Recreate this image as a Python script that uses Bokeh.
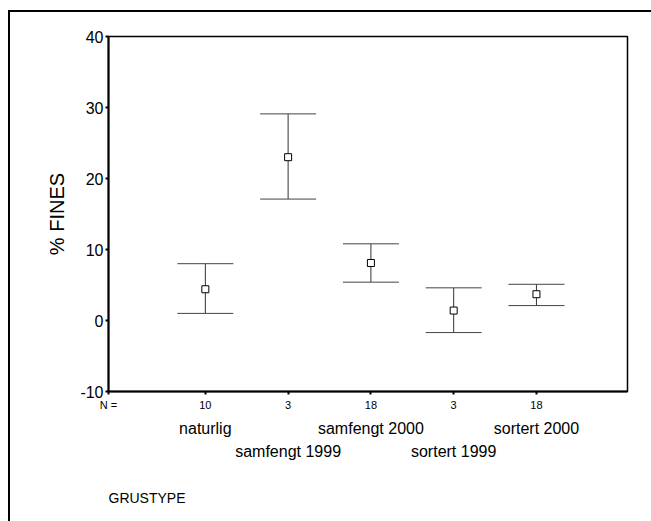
from bokeh.plotting import figure
from bokeh.models import (Range1d, FixedTicker, LinearAxis, Whisker, TeeHead,
                          ColumnDataSource, Title)
from bokeh.embed import file_html
from bokeh.resources import INLINE

categories = ["naturlig", "samfengt 1999", "samfengt 2000", "sortert 1999", "sortert 2000"]
counts = [10, 3, 18, 3, 18]
means = [4.4, 23.0, 8.1, 1.4, 3.7]
upper = [8.0, 29.1, 10.8, 4.6, 5.1]
lower = [1.0, 17.1, 5.4, -1.7, 2.1]
y_ticks = [-10, 0, 10, 20, 30, 40]

xs = list(range(1, len(categories) + 1))
FONT = "Liberation Sans"
X_START, X_END = -0.17, 6.1

src = ColumnDataSource(dict(x=xs, mean=means, upper=upper, lower=lower))

p = figure(width=643, height=519, output_backend="svg", toolbar_location=None,
           x_range=Range1d(X_START, X_END), y_range=Range1d(-10, 40),
           min_border_left=98, min_border_top=24, min_border_right=26,
           min_border_bottom=140, x_axis_type=None)
p.styles = {"margin-left": "8px", "margin-top": "10px",
            "border-left": "2px solid black", "border-top": "2px solid black"}

p.grid.visible = False
p.outline_line_color = "black"
p.outline_line_width = 1.5
p.background_fill_color = "white"
p.border_fill_color = "white"

# y axis
ya = p.yaxis[0]
ya.ticker = FixedTicker(ticks=y_ticks)
ya.major_label_overrides = {t: str(t) for t in y_ticks}
ya.minor_tick_line_color = None
ya.major_tick_out = 3
ya.major_tick_in = 0
ya.major_tick_line_width = 2
ya.axis_line_width = 2
ya.major_label_standoff = 2
ya.major_label_text_font = FONT
ya.major_label_text_font_size = "16px"
ya.major_label_text_color = "black"
ya.axis_label = "% FINES"
ya.axis_label_text_font = FONT
ya.axis_label_text_font_size = "20px"
ya.axis_label_text_font_style = "normal"
ya.axis_label_text_color = "black"
ya.axis_label_standoff = 9

# x axis: counts, with the "N =" caption at the left end of the axis
ax1_ticks = [X_START] + xs
ax1_labels = {X_START: "N ="}
ax1_labels.update({x: str(n) for x, n in zip(xs, counts)})
ax1 = LinearAxis(ticker=FixedTicker(ticks=ax1_ticks), major_label_overrides=ax1_labels)
ax1.minor_tick_line_color = None
ax1.major_tick_out = 3
ax1.major_tick_in = 0
ax1.major_tick_line_width = 2
ax1.axis_line_width = 2
ax1.major_label_standoff = 4
ax1.major_label_text_font = FONT
ax1.major_label_text_font_size = "11px"
ax1.major_label_text_color = "black"
p.add_layout(ax1, "below")

# category names in two staggered rows
row1 = [x for x in xs if x % 2 == 1]
row2 = [x for x in xs if x % 2 == 0]
for ticks, standoff in ((row1, 6), (row2, 3)):
    ax = LinearAxis(ticker=FixedTicker(ticks=ticks),
                    major_label_overrides={x: categories[x - 1] for x in ticks})
    ax.axis_line_color = None
    ax.major_tick_line_color = None
    ax.minor_tick_line_color = None
    ax.major_tick_out = 0
    ax.major_label_standoff = standoff
    ax.major_label_text_font = FONT
    ax.major_label_text_font_size = "16px"
    ax.major_label_text_color = "black"
    p.add_layout(ax, "below")

t = Title(text="GRUSTYPE", align="left", text_font=FONT, text_font_size="14px",
          text_font_style="normal", text_color="black", standoff=50)
p.add_layout(t, "below")

w = Whisker(source=src, base="x", upper="upper", lower="lower",
            line_color="#333333", line_width=1,
            upper_head=TeeHead(size=56, line_color="#444444", line_width=1),
            lower_head=TeeHead(size=56, line_color="#444444", line_width=1))
p.add_layout(w)

p.scatter("x", "mean", source=src, marker="square", size=7,
          fill_color="white", line_color="black", line_width=1)

open("out.html", "w").write(file_html(p, INLINE))
